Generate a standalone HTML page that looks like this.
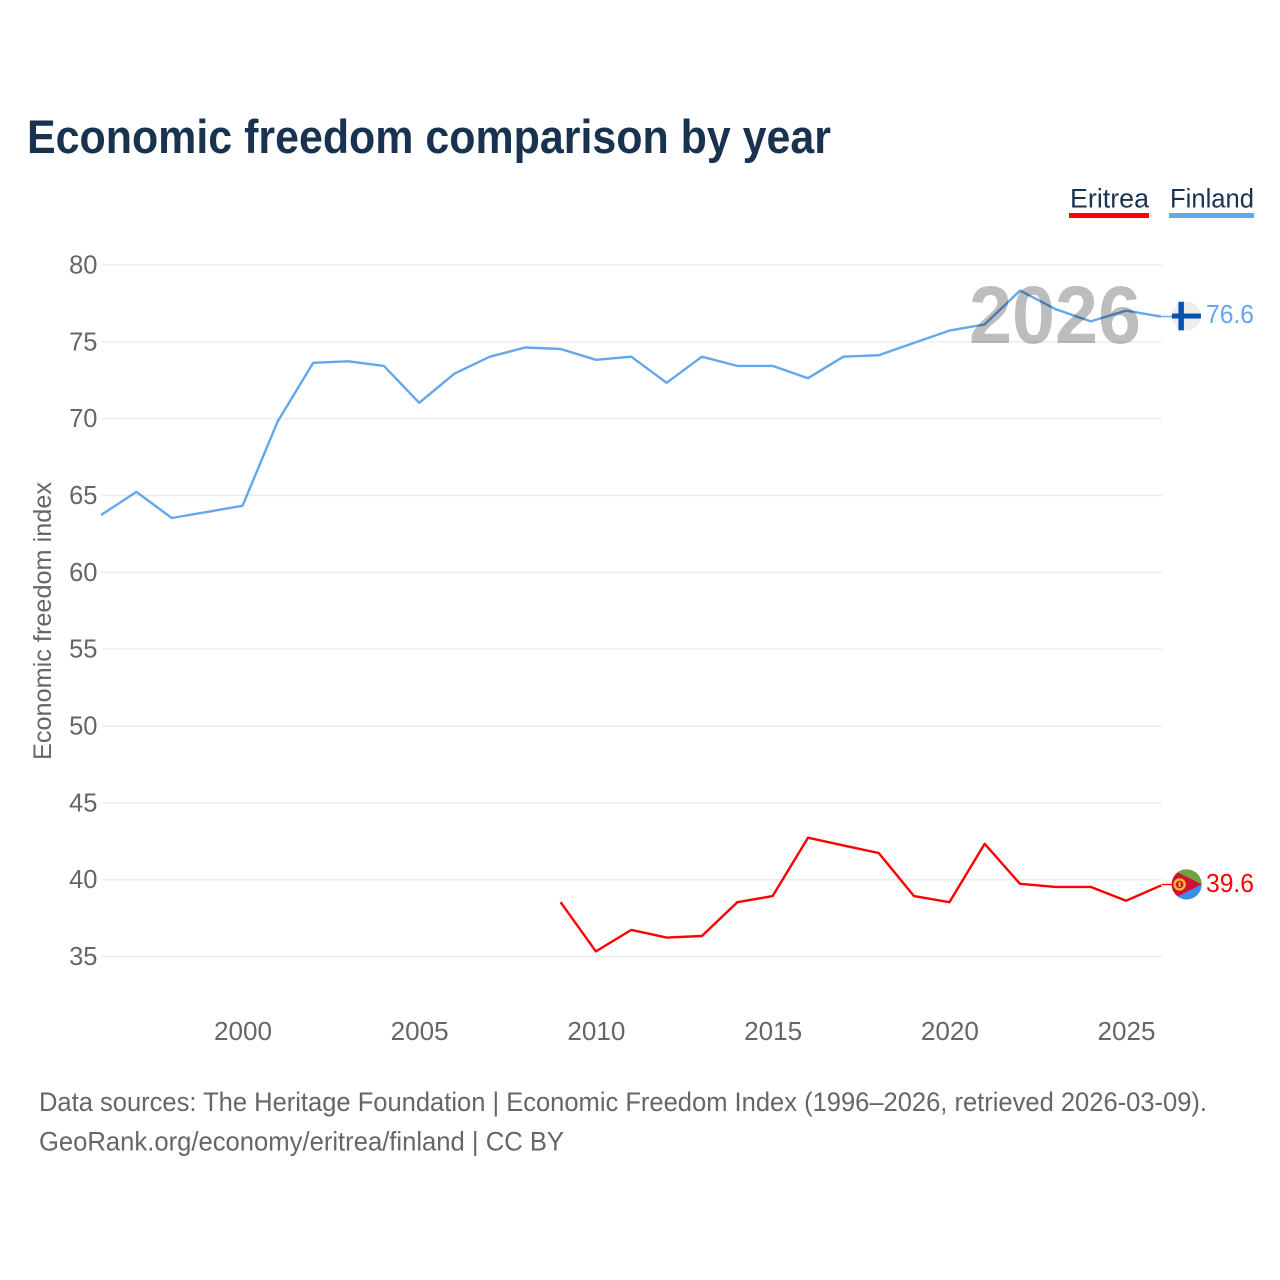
<!DOCTYPE html>
<html lang="en">
<head>
<meta charset="utf-8">
<title>Economic freedom comparison by year</title>
<style>
html,body{margin:0;padding:0;background:#fff;}
svg{display:block;font-family:"Liberation Sans",sans-serif;}
</style>
</head>
<body>
<svg id="chart" xmlns="http://www.w3.org/2000/svg" width="1280" height="1280" viewBox="0 0 1280 1280">
  <rect width="1280" height="1280" fill="#ffffff"/>
  <text x="27" y="153" font-size="47" font-weight="700" fill="#18324f" textLength="804" lengthAdjust="spacingAndGlyphs">Economic freedom comparison by year</text>
  <g>
    <g>
      <text x="1070" y="207.5" font-size="27" fill="#18324f" textLength="79" lengthAdjust="spacingAndGlyphs">Eritrea</text>
      <rect x="1069" y="213" width="80" height="5" fill="#ff0000"/>
    </g>
    <g>
      <text x="1170" y="207.5" font-size="27" fill="#18324f" textLength="84" lengthAdjust="spacingAndGlyphs">Finland</text>
      <rect x="1169" y="213" width="85" height="5" fill="#64a7ec"/>
    </g>
  </g>
  <g id="grid"></g>
  <g id="yticks"></g>
  <g id="xticks"></g>
  <text transform="translate(51,621) rotate(-90)" text-anchor="middle" font-size="25" fill="#666666" textLength="278" lengthAdjust="spacingAndGlyphs">Economic freedom index</text>
  <g id="series" transform="translate(-0.5,-0.5)"></g>
  <text id="yearLabel" x="1055" y="343" text-anchor="middle" font-size="82" font-weight="700" fill="#bdbdbd" textLength="172" lengthAdjust="spacingAndGlyphs" style="mix-blend-mode:multiply">2026</text>
  <g id="flags"></g>
  <g>
    <text x="39" y="1111" font-size="27" fill="#666666" textLength="1168" lengthAdjust="spacingAndGlyphs">Data sources: The Heritage Foundation | Economic Freedom Index (1996–2026, retrieved 2026-03-09).</text>
    <text x="39" y="1150.5" font-size="27" fill="#666666" textLength="525" lengthAdjust="spacingAndGlyphs">GeoRank.org/economy/eritrea/finland | CC BY</text>
  </g>
</svg>
<script>
var yTickValues = [35, 40, 45, 50, 55, 60, 65, 70, 75, 80];
var xTickValues = [2000, 2005, 2010, 2015, 2020, 2025];
var finlandYears = [1996,1997,1998,1999,2000,2001,2002,2003,2004,2005,2006,2007,2008,2009,2010,2011,2012,2013,2014,2015,2016,2017,2018,2019,2020,2021,2022,2023,2024,2025,2026];
var finlandValues = [63.7,65.2,63.5,63.9,64.3,69.8,73.6,73.7,73.4,71.0,72.9,74.0,74.6,74.5,73.8,74.0,72.3,74.0,73.4,73.4,72.6,74.0,74.1,74.9,75.7,76.1,78.3,77.1,76.3,77.0,76.6];
var eritreaYears = [2009,2010,2011,2012,2013,2014,2015,2016,2017,2018,2019,2020,2021,2022,2023,2024,2025,2026];
var eritreaValues = [38.5,35.3,36.7,36.2,36.3,38.5,38.9,42.7,42.2,41.7,38.9,38.5,42.3,39.7,39.5,39.5,38.6,39.6];

var NS = 'http://www.w3.org/2000/svg';
function xScale(year) { return 101.6 + (year - 1996) * (1126.6 - 243) / 25; }
function yScale(v) { return 265 + (80 - v) * (956.5 - 265) / 45; }
function make(tag, attrs, parent) {
  var el = document.createElementNS(NS, tag);
  for (var k in attrs) el.setAttribute(k, attrs[k]);
  parent.appendChild(el);
  return el;
}
var grid = document.getElementById('grid');
var yticks = document.getElementById('yticks');
var xticks = document.getElementById('xticks');
yTickValues.forEach(function (v) {
  var line = make('line', {x1: 101.6, x2: 1162, y1: yScale(v), y2: yScale(v), stroke: '#ebebeb', 'stroke-width': 1.4}, grid);
  
  
  var t = make('text', {x: 97.5, y: yScale(v) + 8.5, 'text-anchor': 'end', 'font-size': 25.5, fill: '#666666'}, yticks);
  
  
  t.textContent = v;
});
xTickValues.forEach(function (v) {
  var t = make('text', {x: xScale(v), y: 1040, 'text-anchor': 'middle', 'font-size': 25.5, fill: '#666666', textLength: 58, lengthAdjust: 'spacingAndGlyphs'}, xticks);
  
  
  t.textContent = v;
});
function pointsFor(years, values) {
  return years.map(function (y, i) { return xScale(y).toFixed(1) + ',' + yScale(values[i]).toFixed(1); }).join(' ');
}
var series = document.getElementById('series');
var eritreaLine = make('polyline', {points: pointsFor(eritreaYears, eritreaValues), fill: 'none', stroke: '#ff0000', 'stroke-width': 2.4, 'stroke-linejoin': 'round'}, series);


var finlandLine = make('polyline', {points: pointsFor(finlandYears, finlandValues), fill: 'none', stroke: '#64a7ec', 'stroke-width': 2.4, 'stroke-linejoin': 'round'}, series);



var flags = document.getElementById('flags');
var finLast = finlandValues[finlandValues.length - 1];
var eriLast = eritreaValues[eritreaValues.length - 1];
var finY = yScale(finLast);
var eriY = yScale(eriLast);
var finConn = make('line', {x1: 1162, x2: 1172, y1: finY - 0.7, y2: finY - 0.7, stroke: '#64a7ec', 'stroke-width': 1.4}, flags);


var eriConn = make('line', {x1: 1162, x2: 1172, y1: eriY - 1.3, y2: eriY - 1.3, stroke: '#ff0000', 'stroke-width': 1.4}, flags);



/* Finland flag marker */
var fin = make('g', {transform: 'translate(1186.4,' + (finY - 1.2) + ')'}, flags);


make('circle', {r: 14.5, fill: '#eeeeee'}, fin);
make('rect', {x: -14.5, y: -2.5, width: 29, height: 5, fill: '#0a52b0'}, fin);
make('rect', {x: -8, y: -14.3, width: 5.5, height: 28.6, fill: '#0a52b0'}, fin);
var finVal = make('text', {x: 1254, y: finY + 6, 'text-anchor': 'end', 'font-size': 26, fill: '#64a7ec', textLength: 48, lengthAdjust: 'spacingAndGlyphs'}, flags);


finVal.textContent = finLast.toFixed(1);

/* Eritrea flag marker */
var eri = make('g', {transform: 'translate(1186.6,' + (eriY - 1.4) + ')'}, flags);


make('circle', {r: 15, fill: '#d40f2f'}, eri);
make('path', {d: 'M-9,-12 A15,15 0 0 1 15,0 Z', fill: '#6ea343'}, eri);
make('path', {d: 'M15,0 A15,15 0 0 1 -9,12 Z', fill: '#3a8eea'}, eri);
make('circle', {cx: -7, r: 5, fill: 'none', stroke: '#f2c230', 'stroke-width': 2.4}, eri);
make('rect', {x: -8, y: -2.5, width: 2, height: 5, fill: '#f2c230'}, eri);
var eriVal = make('text', {x: 1254, y: eriY + 6, 'text-anchor': 'end', 'font-size': 26, fill: '#ff0000', textLength: 48, lengthAdjust: 'spacingAndGlyphs'}, flags);


eriVal.textContent = eriLast.toFixed(1);
</script>
</body>
</html>
